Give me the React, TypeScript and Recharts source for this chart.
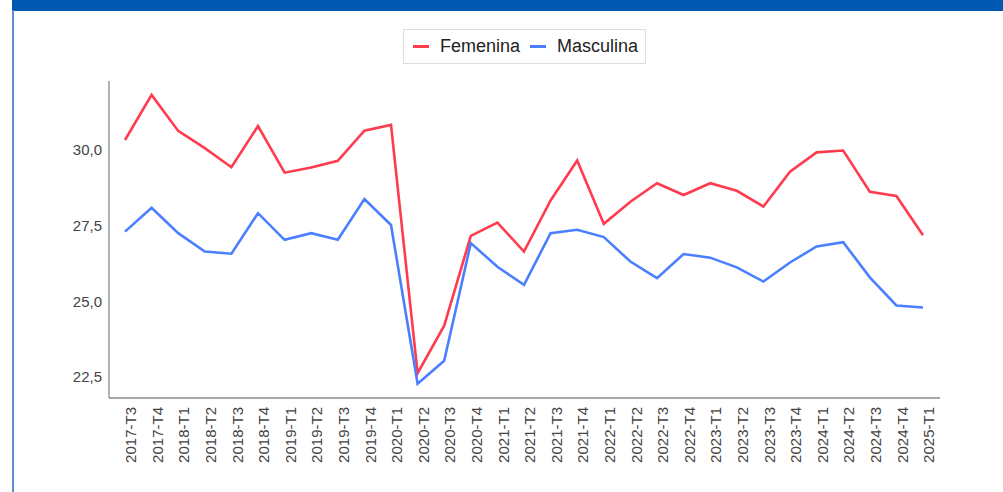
import React from "react";
import { LineChart, Line, XAxis, YAxis } from "recharts";

const categories = [
  "2017-T3", "2017-T4", "2018-T1", "2018-T2", "2018-T3", "2018-T4",
  "2019-T1", "2019-T2", "2019-T3", "2019-T4", "2020-T1", "2020-T2",
  "2020-T3", "2020-T4", "2021-T1", "2021-T2", "2021-T3", "2021-T4",
  "2022-T1", "2022-T2", "2022-T3", "2022-T4", "2023-T1", "2023-T2",
  "2023-T3", "2023-T4", "2024-T1", "2024-T2", "2024-T3", "2024-T4",
  "2025-T1",
];

const femenina = [
  30.33, 31.82, 30.63, 30.06, 29.43, 30.79, 29.25, 29.42, 29.64, 30.64,
  30.83, 22.62, 24.19, 27.16, 27.6, 26.64, 28.33, 29.65, 27.56, 28.29,
  28.9, 28.51, 28.9, 28.65, 28.13, 29.28, 29.92, 29.98, 28.62, 28.48,
  27.18,
];

const masculina = [
  27.3, 28.09, 27.25, 26.64, 26.57, 27.91, 27.03, 27.25, 27.03, 28.38,
  27.52, 22.27, 23.03, 26.92, 26.14, 25.54, 27.25, 27.36, 27.12, 26.31,
  25.76, 26.56, 26.44, 26.12, 25.65, 26.28, 26.81, 26.95, 25.79, 24.86,
  24.79,
];

const yTicks = [22.5, 25, 27.5, 30];

const data = categories.map((c, i) => ({
  name: c,
  Femenina: femenina[i],
  Masculina: masculina[i],
}));

const RED = "#ff3b4f";
const BLUE = "#4a7fff";
const FONT = "'Liberation Sans', Arial, sans-serif";

const XTick = (props: any) => {
  const { x, y, payload } = props;
  return (
    <text
      x={0}
      y={0}
      transform={`translate(${x + 6},${y + 9}) rotate(-90)`}
      textAnchor="end"
      dy="0.35em"
      fontSize={15}
      fontFamily={FONT}
      fill="#444"
    >
      {payload.value}
    </text>
  );
};

export default function App() {
  return (
    <div
      style={{
        position: "fixed",
        left: 0,
        top: 0,
        width: 1003,
        height: 492,
        background: "#fff",
        overflow: "hidden",
        fontFamily: FONT,
      }}
    >
      <div
        style={{
          position: "absolute",
          left: 12,
          top: 0,
          width: 991,
          height: 10.5,
          background: "#0057b0",
        }}
      />
      <div
        style={{
          position: "absolute",
          left: 12,
          top: 10,
          width: 2,
          height: 482,
          background: "#5b8fd3",
        }}
      />
      <div style={{ position: "absolute", left: 0, top: 0 }}>
        <LineChart
          width={1003}
          height={492}
          data={data}
          margin={{ top: 81, right: 63, bottom: 0, left: 0 }}
        >
          <XAxis
            dataKey="name"
            interval={0}
            height={94}
            tickSize={0}
            tickMargin={0}
            tickLine={false}
            tick={<XTick />}
            axisLine={{ stroke: "#888", strokeWidth: 1.3 }}
            padding={{ left: 16, right: 17 }}
          />
          <YAxis
            width={109}
            domain={[21.8, 32.28]}
            ticks={yTicks}
            tickLine={false}
            tickSize={5}
            tickMargin={2}
            axisLine={{ stroke: "#888", strokeWidth: 1.3 }}
            tick={{ fontSize: 15, fontFamily: FONT, fill: "#444" }}
            tickFormatter={(v: number) => v.toFixed(1).replace(".", ",")}
          />
          <Line
            type="linear"
            dataKey="Femenina"
            stroke={RED}
            strokeWidth={2.6}
            dot={false}
            isAnimationActive={false}
          />
          <Line
            type="linear"
            dataKey="Masculina"
            stroke={BLUE}
            strokeWidth={2.6}
            dot={false}
            isAnimationActive={false}
          />
        </LineChart>
      </div>
      <div
        style={{
          position: "absolute",
          left: 403,
          top: 29,
          width: 243,
          height: 35,
          boxSizing: "border-box",
          border: "1px solid #dddddd",
          display: "flex",
          alignItems: "center",
          paddingLeft: 9,
          fontSize: 18,
          color: "#222",
          whiteSpace: "nowrap",
        }}
      >
        <span style={{ display: "inline-block", width: 16, height: 3, background: RED }} />
        <span style={{ marginLeft: 11 }}>Femenina</span>
        <span style={{ display: "inline-block", width: 16, height: 3, background: BLUE, marginLeft: 10 }} />
        <span style={{ marginLeft: 11 }}>Masculina</span>
      </div>
    </div>
  );
}
